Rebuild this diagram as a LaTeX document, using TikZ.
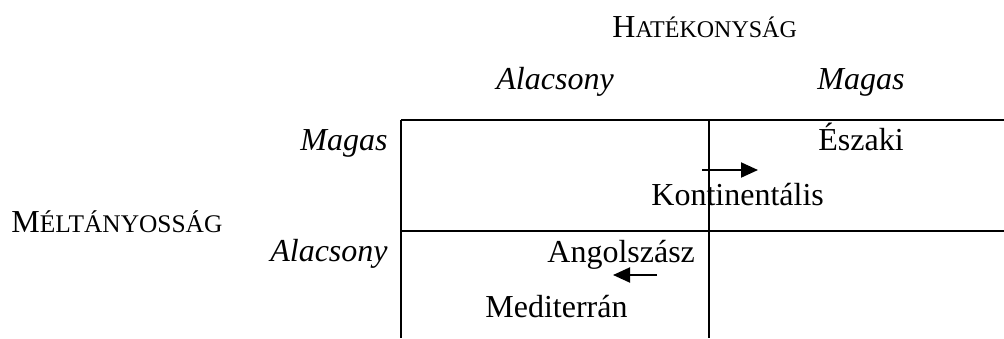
\documentclass[tikz,border=0pt]{standalone}
\usepackage{fontspec}
\setmainfont{Liberation Serif}
\usetikzlibrary{arrows.meta}
\newcommand{\kiskap}[3][12]{#2{\fontsize{#1}{14}\selectfont #3}}

\begin{document}
\begin{tikzpicture}[x=0.5pt, y=-0.5pt, font=\fontsize{16}{19}\selectfont]
  \tikzset{
    cimke/.style={inner sep=0pt, anchor=base west},
    fej/.style={inner sep=0pt, anchor=base west, font=\fontsize{16}{19}\selectfont\itshape},
    sor/.style={inner sep=0pt, anchor=base east, font=\fontsize{16}{19}\selectfont\itshape},
    vonal/.style={line width=1pt},
    nyil/.style={line width=1pt, -{Triangle[length=8.5pt, width=7.5pt]}}
  }
  \useasboundingbox (0,0) rectangle (1004,338);

  % Tablazat
  \coordinate (BF) at (401,120);
  \coordinate (KF) at (709,120);
  \coordinate (JF) at (1004,120);
  \coordinate (BK) at (401,231);
  \coordinate (JK) at (1004,231);
  \coordinate (BA) at (401,338);
  \coordinate (KA) at (709,338);
  \draw[vonal] (BF) -- (JF);
  \draw[vonal] (BK) -- (JK);
  \draw[vonal] (BF) -- (BA);
  \draw[vonal] (KF) -- (KA);

  % Fejlec
  \node[cimke] (hat) at (612,37) {\kiskap{H}{ATÉKONYSÁG}};
  \node[fej] (halacs) at (496,89) {Alacsony};
  \node[fej] (hmagas) at (817,89) {Magas};

  % Sorok
  \node[cimke] (melt) at (11,232) {\kiskap[12.7]{M}{ÉLTÁNYOSSÁG}};
  \node[sor] (smagas) at (388,150) {Magas};
  \node[sor] (salacs) at (388,261) {Alacsony};

  % Orszagcsoportok
  \node[cimke] (eszaki) at (818,150) {Északi};
  \node[cimke] (kont) at (651,205) {Kontinentális};
  \node[cimke] (angol) at (547,262) {Angolszász};
  \node[cimke] (medit) at (485,317) {Mediterrán};

  % --- elmozdulasok ---
  \coordinate (k1) at (702,170);
  \coordinate (k2) at (758,170);
  \draw[nyil] (k1) -- (k2);
  \coordinate (a1) at (657,275);
  \coordinate (a2) at (613,275);
  \draw[nyil] (a1) -- (a2);
\end{tikzpicture}
\end{document}
